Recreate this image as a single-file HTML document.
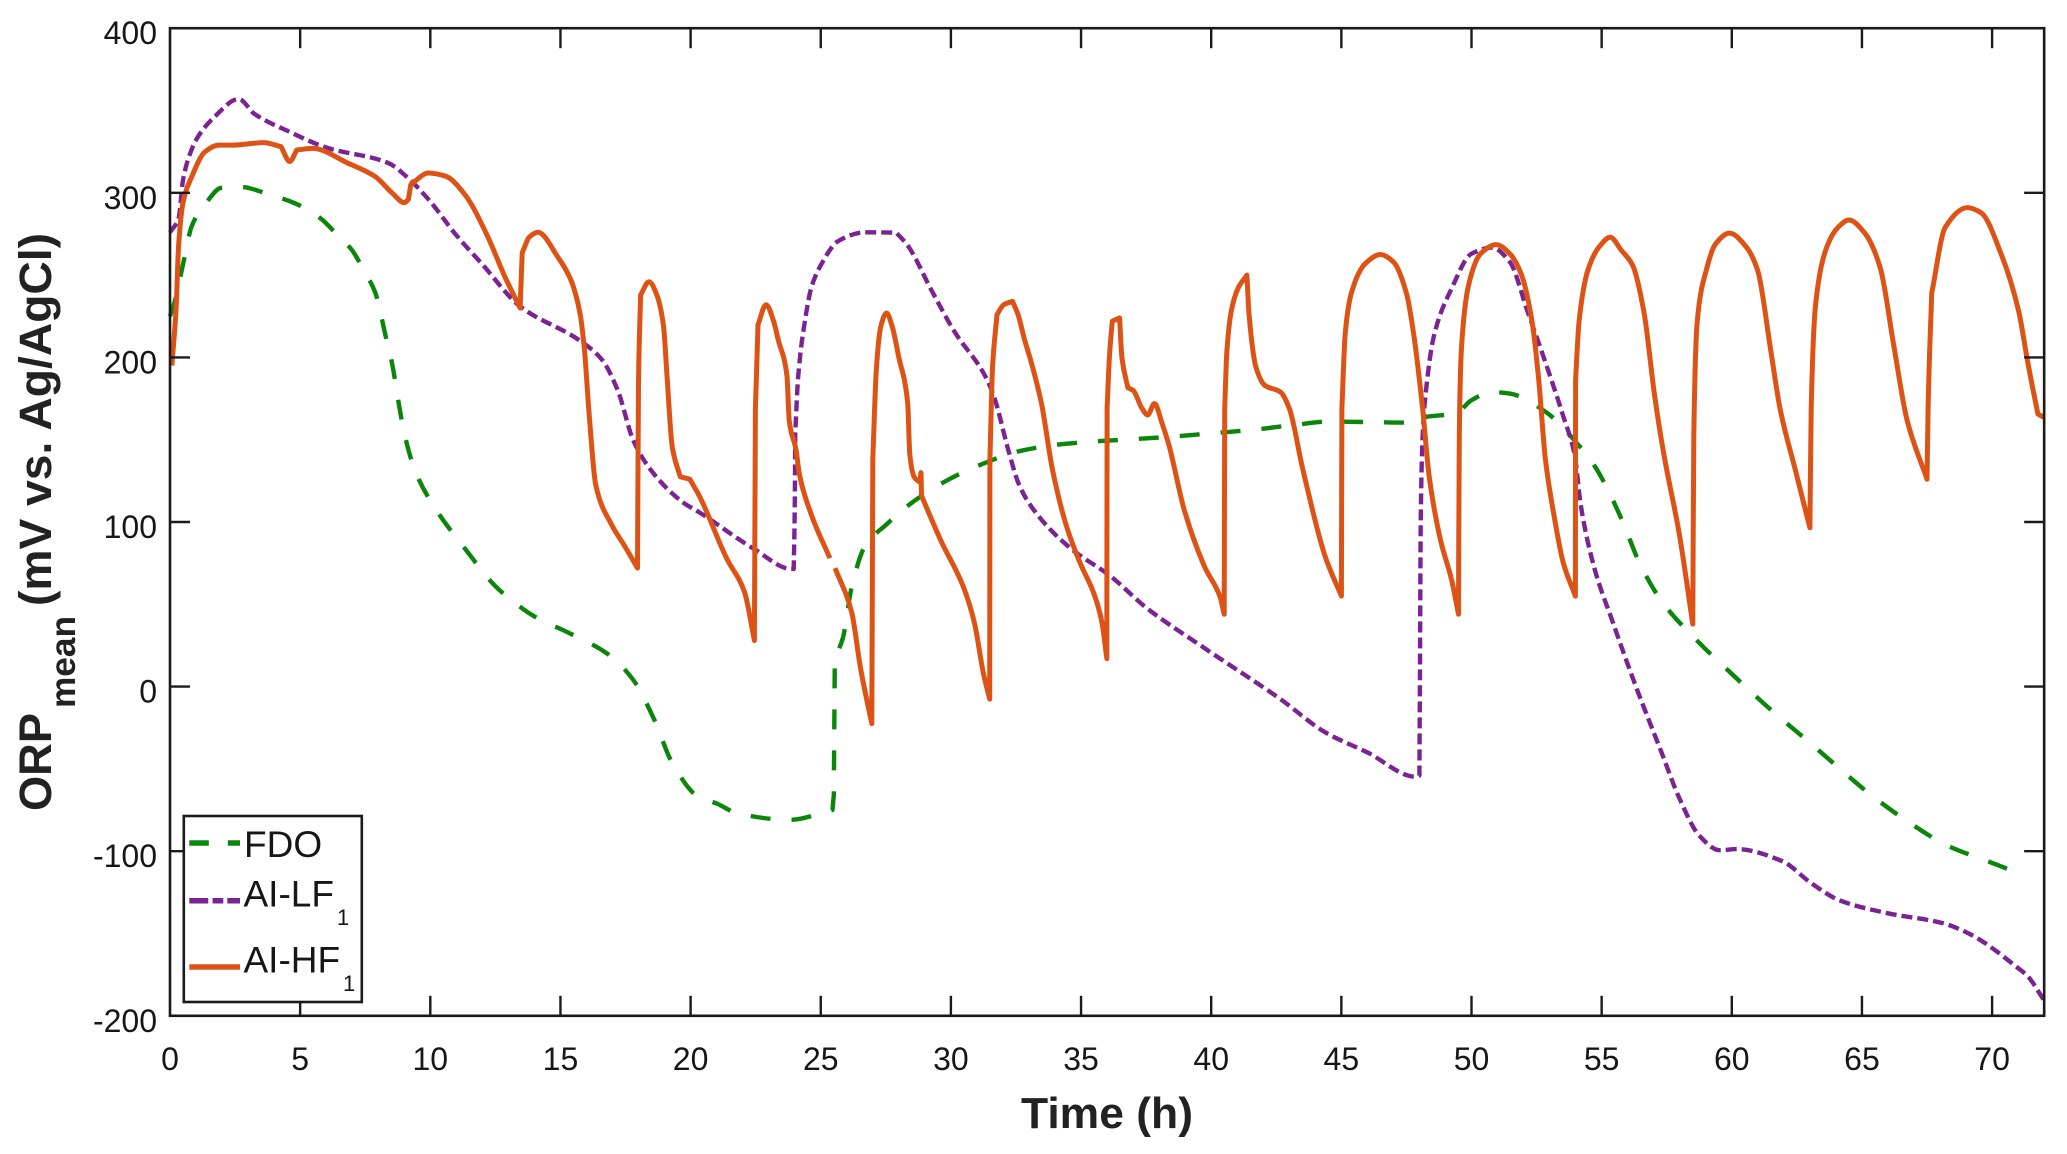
<!DOCTYPE html>
<html lang="en">
<head>
<meta charset="utf-8">
<title>ORP mean vs Time</title>
<style>
html,body{margin:0;padding:0;background:#fff;}
svg{display:block;}
text{font-family:"Liberation Sans",sans-serif;fill:#161616;}
.b{font-weight:bold;fill:#222;}
</style>
</head>
<body>
<svg id="chart" xmlns="http://www.w3.org/2000/svg" width="2067" height="1154" viewBox="0 0 2067 1154">
  <rect x="0" y="0" width="2067" height="1154" fill="#fff"/>
  <g id="series"></g>
  <g id="axes"></g>
  <text class="b" x="1021" y="1128" font-size="44" textLength="172" lengthAdjust="spacingAndGlyphs">Time (h)</text>
  <g>
    <text class="b" transform="translate(51,811) rotate(-90)" font-size="45" textLength="98" lengthAdjust="spacingAndGlyphs">ORP</text>
    <text class="b" transform="translate(75,708) rotate(-90)" font-size="35" textLength="92" lengthAdjust="spacingAndGlyphs">mean</text>
    <text class="b" transform="translate(51,606) rotate(-90)" font-size="45" textLength="373" lengthAdjust="spacingAndGlyphs">(mV vs. Ag/AgCl)</text>
  </g>
  <g>
    <rect x="183.8" y="816" width="178" height="186" fill="#fff" stroke="#1a1a1a" stroke-width="2.6"/>
    <g>
      <line x1="189.3" y1="843" x2="240" y2="843" stroke="#0a860a" stroke-width="5.5" stroke-dasharray="19.5 19 12.2 0"/>
      <text x="244" y="857" font-size="37">FDO</text>
    </g>
    <g>
      <line x1="189.3" y1="900.7" x2="240" y2="900.7" stroke="#7b2393" stroke-width="5.5" stroke-dasharray="19 4.3 10.7 4 12.7 0"/>
      <text x="243.5" y="906.5" font-size="37">AI-LF</text>
      <text x="337" y="925" font-size="22">1</text>
    </g>
    <g>
      <line x1="189.3" y1="967" x2="240" y2="967" stroke="#dd5316" stroke-width="5.5"/>
      <text x="243.5" y="972.7" font-size="37">AI-HF</text>
      <text x="343" y="991" font-size="22">1</text>
    </g>
  </g>
</svg>
<script>
var xTickLabels = [0,5,10,15,20,25,30,35,40,45,50,55,60,65,70];
var yTickLabels = [400,300,200,100,0,-100,-200];

var fdoTime = [0,0.2,0.5,0.84,1.44,1.96,2.73,3.8,4.79,5.82,6.33,7,7.44,7.87,8.3,8.56,8.73,9,9.42,10.2,11.3,12.5,13.28,13.96,15.4,16.8,17.8,18.6,19.28,20.3,21,21.8,23.8,25.45,25.5,25.54,25.85,26.19,26.7,27.56,28.25,29.7,31.17,32.62,34.1,35.6,37.17,38.6,40.1,41.6,43.2,44.55,46.1,47.35,48.3,49.4,50,50.8,51.47,52.84,54.13,54.73,55.16,55.84,56.44,57.3,58.6,60.05,61.42,62.87,64,65.36,66.82,68.28,69.82,71.28];
var fdoOrp = [225,235,256.5,280,295,303,303.5,299,293.7,284,276,265,253,240,212,194,177.5,154,131,108,84.5,61,50.5,43,32,20,4,-20,-46,-67,-71,-77,-81,-75,-66,17,29.6,60.6,85.4,99,108.7,124,135,143,147,149,150.5,152,154,156,159,161,160.7,160.4,164,166,174,179,178,167,146.4,134,122,99,75.6,52,29,7,-13,-32.4,-47.8,-66,-82.6,-96.6,-106,-115];

var lfTime = [0,0.33,0.5,0.67,1,1.7,2.64,3.24,4.6,6,8.4,9.07,9.93,10.96,12,13.45,15.76,16.6,17.2,17.8,18.5,19.7,20.36,22.4,23.88,23.96,24,24.02,24.13,24.39,24.65,25,25.68,26.7,27.9,28.34,29.28,30.14,31.34,31.68,32.2,32.62,33.2,34.6,36.14,37.5,39.74,42.66,44.37,46,47.87,48,48.02,48.05,48.12,48.3,48.55,49.24,50,50.78,51.47,52.15,52.84,53.53,53.96,54.2,54.73,55.41,56.27,57.3,57.99,58.76,59.53,60.2,61.93,63.1,64.16,66,68.1,69.1,71,71.37,72];
var lfOrp = [276,284.5,307.7,319,332,346,357,348,337,327.5,318,310,296,275,256.5,231,210,198.5,180,149.6,131,112,105.6,84,71.5,71.5,107,153.6,187.7,222,243,256,270.8,276,275.8,268,240,215.6,188,175,144,122.6,107,84,67,48,23.4,-7.6,-27.7,-40,-54.8,-54,12,99,151.6,186.5,212.7,242,263,266.7,258,228,197,164,141,110,71.5,40,2,-40,-68,-90.7,-99.4,-98.7,-106,-120,-130,-137.7,-143.7,-150,-171,-176,-190.7];

/* null marks the small white break visible in the trace near 25.4 h */
var hfTime = [0.07,0.24,0.33,0.5,0.84,1.35,1.87,2.4,3.6,4.27,4.6,4.87,5.47,6.84,7.87,8.56,9,9.16,9.25,9.93,10.6,11.3,12.16,12.85,13.45,13.53,13.8,14.13,14.9,15.4,15.76,15.93,16.1,16.36,16.96,17.5,17.96,18,18.08,18.4,18.7,18.96,19.1,19.3,19.6,19.97,20.36,21.39,22.07,22.45,22.49,22.59,22.9,23.19,23.36,23.7,23.79,24.05,24.17,24.65,25.35,25.45,25.55,26.19,26.53,26.96,27,27.14,27.31,27.53,27.74,28,28.34,28.42,28.6,28.82,28.85,28.87,29.62,30.48,30.9,31.25,31.49,31.5,31.6,31.77,32.03,32.37,32.6,32.8,33.14,33.48,33.9,34.43,34.94,35.54,35.8,35.99,36,36.1,36.2,36.48,36.57,36.8,37,37.34,37.56,37.82,38.11,38.37,38.97,39.74,40.34,40.5,40.52,40.6,40.77,41.03,41.37,41.46,41.72,42.06,42.66,43,43.52,44.38,45,45.02,45.15,45.4,45.92,46.5,47,47.5,47.78,48.12,48.38,48.81,49.24,49.5,49.53,49.62,49.89,50.35,50.95,51.47,51.9,52.33,52.58,52.84,53.18,53.53,53.99,54,54.13,54.47,54.9,55.33,55.76,56.19,56.62,57.04,57.39,57.99,58.5,58.54,58.67,59.02,59.36,59.91,60.56,60.99,61.5,61.85,62.45,63,63.05,63.22,63.65,64.08,64.5,65.11,65.7,66.22,66.73,67.5,67.54,67.68,68.2,69.05,69.57,70.34,71.02,71.37,71.76,72];
var hfOrp = [195,231,268,294,310,325,329,329,330.5,328,319,326,327,318,310,299.5,294,296,305,312,310,299.5,275,249.5,230,263.5,273,276,261,247,226,203,166,122,98.5,84.5,72,184,238,246,238,219,187,145,127.5,126,115,77.7,57.5,28,169,220,232,222,211,189,161,144,130,104,78,null,72,45,11,-22.5,138,194,219,227,219,200,172,141,127,124,130,116,88.5,60.6,39,8,-7.6,138,194,226,232,234,225,212.5,194,172,132,98,76,54.5,39,17,169,203,222,224,200,181.5,180,169,165,172,160,147,107,73,54.5,44,169,203,228,242,250,225,194,183,179,169,132,79,55,169,215,240,257,262.5,258,239,214,169,127,89,64.5,44,152,207,244,263,268.5,263,251,221.5,186.5,138,103,75,55,186.5,221.5,253,267,273,265,256,228,176,141,92,38,152,221.5,253,268.5,275.5,267,253,204,169,131,96.5,169,232,267,279,283.5,275.5,254.5,207.5,162,126,169,239,279,291,288,263,228,197,165.6,163.5];

var X0 = 170, X_PER_H = 26.03, XMAX = 72;
var Y0 = 686.6, Y_PER_UNIT = 1.646;
var CORNER_RATIO = 6;
function xScale(t){ return X0 + t * X_PER_H; }
function yScale(v){ return Y0 - v * Y_PER_UNIT; }

var NS = 'http://www.w3.org/2000/svg';
function make(tag, attrs){
  var el = document.createElementNS(NS, tag);
  for (var k in attrs) el.setAttribute(k, attrs[k]);
  return el;
}

/* monotone cubic through one unbroken run; abrupt slope changes stay sharp corners */
function monotoneRun(px, py){
  var n = px.length, d = 'M' + px[0].toFixed(1) + ' ' + py[0].toFixed(1);
  if (n < 2) return d;
  var s = [], mIn = [0], mOut = [], i;
  for (i = 0; i < n - 1; i++) s.push((py[i + 1] - py[i]) / (px[i + 1] - px[i]));
  mOut.push(s[0]);
  for (i = 1; i < n - 1; i++){
    var a = Math.abs(s[i - 1]), b = Math.abs(s[i]);
    var hi = Math.max(a, b), lo = Math.min(a, b);
    if (hi > 1 && hi > CORNER_RATIO * lo){
      mIn.push(s[i - 1]);
      mOut.push(s[i]);
    } else if (s[i - 1] * s[i] <= 0){
      mIn.push(0);
      mOut.push(0);
    } else {
      var h0 = px[i] - px[i - 1], h1 = px[i + 1] - px[i];
      var w1 = 2 * h1 + h0, w2 = h1 + 2 * h0;
      var m = (w1 + w2) / (w1 / s[i - 1] + w2 / s[i]);
      mIn.push(m);
      mOut.push(m);
    }
  }
  mIn.push(s[n - 2]);
  for (i = 0; i < n - 1; i++){
    var dx = (px[i + 1] - px[i]) / 3;
    d += 'C' + (px[i] + dx).toFixed(1) + ' ' + (py[i] + mOut[i] * dx).toFixed(1) + ' ' +
         (px[i + 1] - dx).toFixed(1) + ' ' + (py[i + 1] - mIn[i + 1] * dx).toFixed(1) + ' ' +
         px[i + 1].toFixed(1) + ' ' + py[i + 1].toFixed(1);
  }
  return d;
}
function pathFrom(ts, vs){
  var d = '', rx = [], ry = [];
  for (var i = 0; i < ts.length; i++){
    if (vs[i] === null){
      if (rx.length) d += monotoneRun(rx, ry);
      rx = []; ry = [];
      continue;
    }
    rx.push(xScale(ts[i]));
    ry.push(yScale(vs[i]));
  }
  if (rx.length) d += monotoneRun(rx, ry);
  return d;
}

var seriesGroup = document.getElementById('series');

var fdoLine = make('path', {d: pathFrom(fdoTime, fdoOrp), fill: 'none', stroke: '#0a860a', 'stroke-width': 4.4, 'stroke-dasharray': '20 21', 'stroke-linejoin': 'round'});


seriesGroup.appendChild(fdoLine);

var lfLine = make('path', {d: pathFrom(lfTime, lfOrp), fill: 'none', stroke: '#7b2393', 'stroke-width': 4.4, 'stroke-dasharray': '11 5', 'stroke-linejoin': 'round'});


seriesGroup.appendChild(lfLine);

var hfLine = make('path', {d: pathFrom(hfTime, hfOrp), fill: 'none', stroke: '#dd5316', 'stroke-width': 5, 'stroke-linejoin': 'round'});


seriesGroup.appendChild(hfLine);

var axes = document.getElementById('axes');
var AXIS = '#1a1a1a', TICK = 20;
var plotTop = yScale(yTickLabels[0]), plotBottom = yScale(yTickLabels[yTickLabels.length - 1]);
var plotLeft = xScale(0), plotRight = xScale(XMAX);

var frame = make('rect', {x: plotLeft, y: plotTop, width: plotRight - plotLeft, height: plotBottom - plotTop, fill: 'none', stroke: AXIS, 'stroke-width': 2.6});


axes.appendChild(frame);

xTickLabels.forEach(function(t){
  var x = xScale(t);
  if (t !== 0){
    var tb = make('line', {x1: x, x2: x, y1: plotBottom, y2: plotBottom - TICK, stroke: AXIS, 'stroke-width': 2.4});
    
    
    axes.appendChild(tb);
    var tt = make('line', {x1: x, x2: x, y1: plotTop, y2: plotTop + TICK, stroke: AXIS, 'stroke-width': 2.4});
    
    
    axes.appendChild(tt);
  }
  var lab = make('text', {x: x, y: 1070, 'text-anchor': 'middle', 'font-size': 32});
  
  
  lab.textContent = String(t);
  axes.appendChild(lab);
});

yTickLabels.forEach(function(v){
  var y = yScale(v);
  if (v !== yTickLabels[0] && v !== yTickLabels[yTickLabels.length - 1]){
    var tl = make('line', {x1: plotLeft, x2: plotLeft + TICK, y1: y, y2: y, stroke: AXIS, 'stroke-width': 2.4});
    
    
    axes.appendChild(tl);
    var tr = make('line', {x1: plotRight, x2: plotRight - TICK, y1: y, y2: y, stroke: AXIS, 'stroke-width': 2.4});
    
    
    axes.appendChild(tr);
  }
  var lab = make('text', {x: 157, y: y + 16, 'text-anchor': 'end', 'font-size': 32});
  
  
  lab.textContent = String(v);
  axes.appendChild(lab);
});
</script>
</body>
</html>
